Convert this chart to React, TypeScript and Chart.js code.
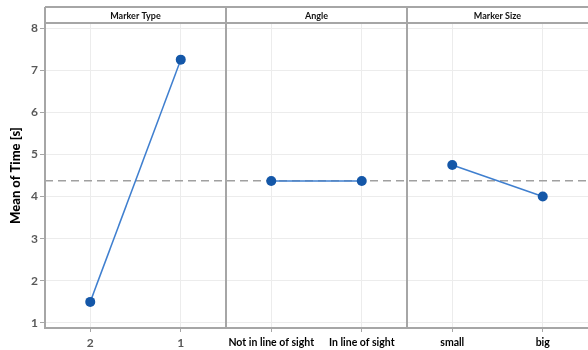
import React, { useEffect, useRef } from "react";
import { Chart, registerables } from "chart.js";

Chart.register(...registerables);

// Main effects plot: one panel per factor, two levels each
const panelTitles = ["Marker Type", "Angle", "Marker Size"];
const markerTypeLevels = ["2", "1"];
const markerTypeMeans = [1.5, 7.25];
const angleLevels = ["Not in line of sight", "In line of sight"];
const angleMeans = [4.37, 4.37];
const markerSizeLevels = ["small", "big"];
const markerSizeMeans = [4.75, 4.0];
const overallMean = 4.375;
const yTickValues = [1, 2, 3, 4, 5, 6, 7, 8];
const yTitle = "Mean of Time [s]";

const panels = [
  { levels: markerTypeLevels, means: markerTypeMeans },
  { levels: angleLevels, means: angleMeans },
  { levels: markerSizeLevels, means: markerSizeMeans },
];

const FONT = "Lato, 'Open Sans', 'Noto Sans', sans-serif";
const FRAME = "#a6a6a6";
const LINE_BLUE = "#3f7fcf";
const POINT_BLUE = "#1457a8";

const allLevels = panels.flatMap((p) => p.levels);
const xTickValues = panels.flatMap((p, pi) => p.levels.map((_, i) => pi * 2 + 0.5 + i));

const panelFrame = {
  id: "panelFrame",
  afterDraw(chart: any) {
    const { ctx, chartArea } = chart;
    const x = chart.scales.x;
    const headerTop = 7;
    const headerBottom = chartArea.top;
    ctx.save();
    // header strip
    ctx.strokeStyle = FRAME;
    ctx.lineWidth = 2;
    ctx.beginPath();
    ctx.moveTo(chartArea.left, headerTop);
    ctx.lineTo(chartArea.right, headerTop);
    ctx.moveTo(chartArea.left, headerBottom);
    ctx.lineTo(chartArea.right, headerBottom);
    ctx.moveTo(chartArea.left, headerTop);
    ctx.lineTo(chartArea.left, chartArea.bottom);
    // panel dividers
    for (let i = 1; i < panels.length; i++) {
      const px = Math.round(x.getPixelForValue(i * 2));
      ctx.moveTo(px, headerTop);
      ctx.lineTo(px, chartArea.bottom);
    }
    ctx.stroke();
    // header titles
    ctx.fillStyle = "#111";
    ctx.font = `bold 9px ${FONT}`;
    ctx.textAlign = "center";
    ctx.textBaseline = "middle";
    panelTitles.forEach((t, i) => {
      const cx = (x.getPixelForValue(i * 2) + x.getPixelForValue(i * 2 + 2)) / 2;
      ctx.fillText(t, cx, (headerTop + headerBottom) / 2 + 1);
    });
    ctx.restore();
  },
};

function MainEffectsChart() {
  const canvasRef = useRef<HTMLCanvasElement>(null);

  useEffect(() => {
    const canvas = canvasRef.current;
    if (!canvas) return;

    const datasets: any[] = panels.map((p, pi) => ({
      data: p.means.map((m, i) => ({ x: pi * 2 + 0.5 + i, y: m })),
      showLine: true,
      borderColor: LINE_BLUE,
      borderWidth: 1.5,
      pointRadius: 5,
      pointBackgroundColor: POINT_BLUE,
      pointBorderColor: POINT_BLUE,
      pointBorderWidth: 0,
    }));
    datasets.push({
      data: [
        { x: 0, y: overallMean },
        { x: panels.length * 2, y: overallMean },
      ],
      showLine: true,
      borderColor: "#a0a0a0",
      borderWidth: 1.5,
      borderDash: [8, 5],
      pointRadius: 0,
    });

    const chart = new Chart(canvas, {
      type: "scatter",
      data: { datasets },
      options: {
        animation: false,
        responsive: false,
        layout: { padding: { top: 23, left: 0, right: 0, bottom: 0 } },
        plugins: { legend: { display: false }, tooltip: { enabled: false } },
        scales: {
          x: {
            type: "linear",
            min: 0,
            max: panels.length * 2,
            afterBuildTicks: (scale: any) => {
              scale.ticks = xTickValues.map((v) => ({ value: v }));
            },
            afterFit: (scale: any) => {
              scale.height = 22;
            },
            border: { color: FRAME, width: 2 },
            grid: { color: "#ececec", tickColor: FRAME, tickLength: 4, lineWidth: 1 },
            ticks: {
              autoSkip: false,
              maxRotation: 0,
              padding: 4,
              callback: (_v: any, i: number) => allLevels[i],
              color: (c: any) => (c.index < 2 ? "#595959" : "#000"),
              font: (c: any) =>
                c.index < 2
                  ? { family: FONT, size: 12, weight: "bold" }
                  : { family: FONT, size: 10.5, weight: "bold" },
            },
          },
          y: {
            min: 0.88,
            max: 8.12,
            afterBuildTicks: (scale: any) => {
              scale.ticks = yTickValues.map((v) => ({ value: v }));
            },
            afterFit: (scale: any) => {
              scale.width = 45;
            },
            border: { color: FRAME, width: 2 },
            grid: { color: "#ececec", tickColor: FRAME, tickLength: 5 },
            ticks: {
              padding: 2,
              color: "#595959",
              font: { family: FONT, size: 12, weight: "bold" },
            },
            title: {
              display: true,
              text: yTitle,
              color: "#000",
              font: { family: FONT, size: 13, weight: "900" },
              padding: { top: 8, bottom: 0 },
            },
          },
        },
      },
      plugins: [panelFrame],
    });

    return () => chart.destroy();
  }, []);

  // the plot runs to the right edge of the frame; the extra canvas width is clipped
  return <canvas ref={canvasRef} width={593} height={350} style={{ display: "block" }} />;
}

export default function App() {
  return (
    <div
      style={{
        position: "absolute",
        left: 0,
        top: 0,
        width: 588,
        height: 350,
        overflow: "hidden",
        background: "#fff",
      }}
    >
      <MainEffectsChart />
    </div>
  );
}
